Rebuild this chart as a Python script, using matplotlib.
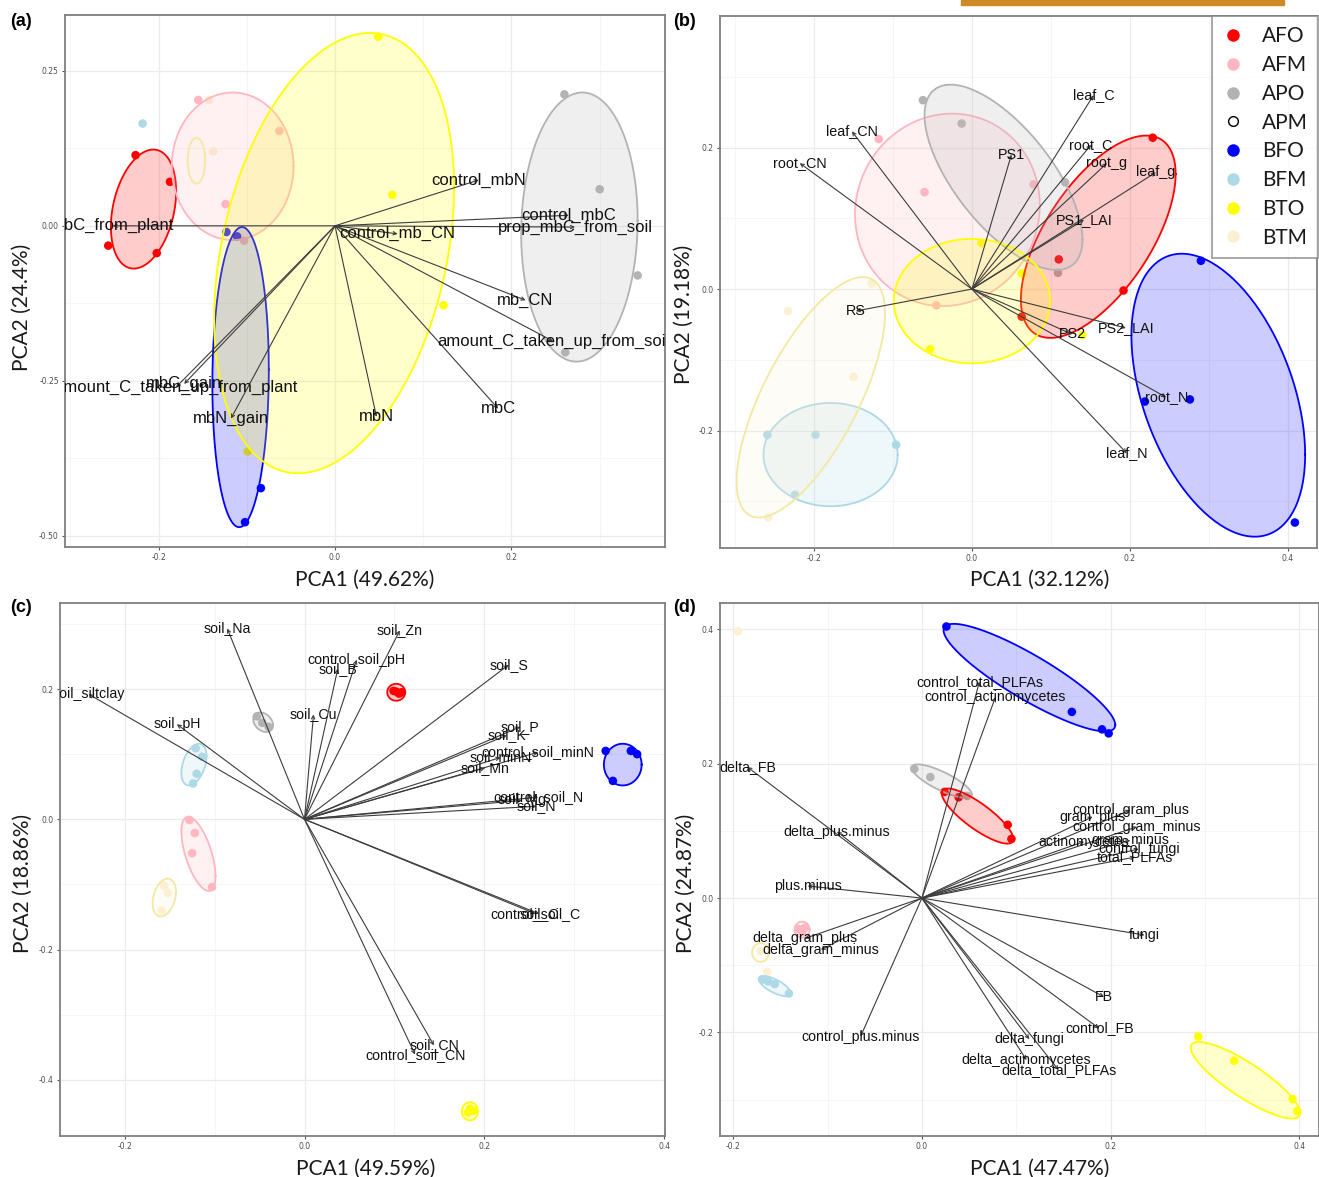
import numpy as np
import matplotlib
matplotlib.use("Agg")
import matplotlib.pyplot as plt
from matplotlib.lines import Line2D
from matplotlib.patches import Rectangle

W, H = 1319, 1177
LABEL_FONT = "Liberation Sans"
TITLE_FONT = "Lato"

GROUPS = ["AFO", "AFM", "APO", "APM", "BFO", "BFM", "BTO", "BTM"]
COLORS = {"AFO": "#ff0000", "AFM": "#ffb6c1", "APO": "#b3b3b3", "APM": "#ffffff",
          "BFO": "#0000ff", "BFM": "#add8e6", "BTO": "#ffff00", "BTM": "#fbf0d2"}
# outline colour of the ellipses (the cream group has a more yellow outline)
EDGES = dict(COLORS, BTM="#f4e8a2")

# ---- panel (a): microbial biomass ----
A_PTS = {
    "AFO": ([-0.226, -0.187, -0.257, -0.202], [0.114, 0.071, -0.032, -0.044]),
    "AFM": ([-0.155, -0.063, -0.124, -0.103], [0.203, 0.153, 0.035, -0.024]),
    "APO": ([0.260, 0.300, 0.343, 0.261], [0.212, 0.059, -0.080, -0.204]),
    "BFO": ([-0.123, -0.111, -0.084, -0.102], [-0.010, -0.017, -0.423, -0.478]),
    "BFM": ([-0.218], [0.165]),
    "BTO": ([0.049, 0.065, 0.123, -0.099], [0.305, 0.050, -0.128, -0.364]),
    "BTM": ([-0.143, -0.138], [0.203, 0.120]),
}
# ellipse: centre x, centre y, half x-extent, half y-extent, correlation
A_ELL = {
    "AFO": (-0.217, 0.027, 0.037, 0.096, 0.30),
    "AFM": (-0.116, 0.096, 0.069, 0.119, 0.0),
    "APO": (0.277, -0.002, 0.066, 0.217, 0.05),
    "BFO": (-0.107, -0.244, 0.032, 0.242, 0.05),
    "BTO": (-0.001, -0.044, 0.136, 0.355, 0.30),
    "BTM": (-0.157, 0.105, 0.010, 0.037, 0.0),
}
A_VARS = ["control_mbN", "control_mbC", "prop_mbC_from_soil", "control_mb_CN", "mb_CN",
          "amount_C_taken_up_from_soil", "mbC", "mbN", "mbN_gain", "mbC_gain",
          "amount_C_taken_up_from_plant", "mbC_from_plant"]
A_LX = [0.163, 0.265, 0.272, 0.071, 0.216, 0.247, 0.185, 0.047, -0.118, -0.171, -0.180, -0.252]
A_LY = [0.074, 0.017, -0.002, -0.013, -0.120, -0.186, -0.295, -0.308, -0.311, -0.255, -0.260, 0.0]

# ---- panel (b): plant traits ----
B_PTS = {
    "AFO": ([0.229, 0.110, 0.192, 0.063], [0.214, 0.042, -0.002, -0.039]),
    "AFM": ([-0.118, -0.060, 0.078, -0.045], [0.212, 0.137, 0.148, -0.023]),
    "APO": ([-0.062, -0.013, 0.118, 0.109], [0.267, 0.234, 0.151, 0.023]),
    "BFO": ([0.290, 0.219, 0.276, 0.409], [0.040, -0.159, -0.156, -0.330]),
    "BFM": ([-0.259, -0.198, -0.096, -0.224], [-0.206, -0.206, -0.220, -0.291]),
    "BTO": ([0.012, 0.063, -0.053, 0.140], [0.065, 0.022, -0.085, -0.065]),
    "BTM": ([-0.127, -0.233, -0.150, -0.258], [0.008, -0.031, -0.124, -0.323]),
}
B_ELL = {
    "AFO": (0.160, 0.074, 0.098, 0.143, 0.62),
    "AFM": (-0.031, 0.112, 0.117, 0.136, 0.05),
    "APO": (0.040, 0.158, 0.100, 0.131, -0.67),
    "BFO": (0.312, -0.150, 0.110, 0.200, -0.42),
    "BFM": (-0.179, -0.234, 0.085, 0.073, 0.0),
    "BTO": (0.000, -0.017, 0.099, 0.088, 0.0),
    "BTM": (-0.204, -0.153, 0.094, 0.170, 0.7),
}
B_VARS = ["leaf_C", "leaf_CN", "root_CN", "PS1", "root_C", "root_g", "leaf_g", "PS1_LAI",
          "RS", "PS2", "PS2_LAI", "root_N", "leaf_N"]
B_LX = [0.154, -0.152, -0.218, 0.050, 0.151, 0.171, 0.233, 0.142, -0.147, 0.127, 0.195, 0.246, 0.196]
B_LY = [0.274, 0.223, 0.178, 0.190, 0.204, 0.178, 0.165, 0.098, -0.031, -0.064, -0.055, -0.153, -0.232]

# ---- panel (c): soil properties ----
C_PTS = {
    "AFO": ([0.099, 0.105, 0.102, 0.108], [0.197, 0.193, 0.196, 0.195]),
    "APO": ([-0.053, -0.040, -0.047], [0.158, 0.142, 0.148]),
    "BFM": ([-0.121, -0.114, -0.120, -0.124], [0.109, 0.096, 0.070, 0.055]),
    "AFM": ([-0.128, -0.122, -0.125, -0.103], [-0.001, -0.021, -0.052, -0.104]),
    "BTM": ([-0.156, -0.152, -0.159], [-0.102, -0.113, -0.140]),
    "BFO": ([0.335, 0.363, 0.370, 0.343], [0.105, 0.105, 0.100, 0.059]),
    "BTO": ([0.184, 0.188, 0.182], [-0.444, -0.447, -0.450]),
}
C_ELL = {
    "AFO": (0.102, 0.195, 0.010, 0.013, 0.0),
    "APO": (-0.046, 0.149, 0.011, 0.015, -0.3),
    "BFM": (-0.123, 0.084, 0.014, 0.032, 0.4),
    "AFM": (-0.118, -0.053, 0.019, 0.057, -0.6),
    "BTM": (-0.156, -0.120, 0.013, 0.029, 0.3),
    "BFO": (0.354, 0.084, 0.021, 0.032, 0.0),
    "BTO": (0.184, -0.448, 0.009, 0.014, 0.0),
}
C_VARS = ["soil_Na", "soil_Zn", "control_soil_pH", "soil_B", "soil_S", "soil_siltclay",
          "soil_pH", "soil_Cu", "soil_P", "soil_K", "control_soil_minN", "soil_minN",
          "soil_Mn", "control_soil_N", "soil_Mg", "soil_N", "control_soil_C", "soil_C",
          "soil_CN", "control_soil_CN"]
C_LX = [-0.086, 0.106, 0.058, 0.037, 0.227, -0.240, -0.142, 0.010, 0.240, 0.225, 0.260, 0.218,
        0.201, 0.260, 0.242, 0.258, 0.257, 0.261, 0.144, 0.123]
C_LY = [0.293, 0.290, 0.245, 0.231, 0.237, 0.192, 0.146, 0.161, 0.142, 0.129, 0.103, 0.095,
        0.079, 0.034, 0.029, 0.020, -0.145, -0.145, -0.347, -0.361]

# ---- panel (d): PLFAs ----
D_PTS = {
    "BFO": ([0.026, 0.159, 0.191, 0.198], [0.404, 0.277, 0.251, 0.245]),
    "APO": ([-0.008, 0.009, 0.048], [0.192, 0.180, 0.152]),
    "AFO": ([0.024, 0.039, 0.091, 0.095], [0.158, 0.150, 0.109, 0.088]),
    "AFM": ([-0.131, -0.127, -0.124], [-0.046, -0.050, -0.044]),
    "BTM": ([-0.195, -0.171, -0.164], [0.397, -0.079, -0.110]),
    "BFM": ([-0.169, -0.163, -0.156, -0.141], [-0.121, -0.124, -0.128, -0.142]),
    "BTO": ([0.293, 0.331, 0.393, 0.398], [-0.206, -0.242, -0.299, -0.317]),
}
D_ELL = {
    "BFO": (0.114, 0.328, 0.091, 0.080, -0.88),
    "APO": (0.021, 0.174, 0.032, 0.025, -0.8),
    "AFO": (0.059, 0.122, 0.038, 0.041, -0.83),
    "AFM": (-0.127, -0.047, 0.008, 0.012, 0.0),
    "BTM": (-0.171, -0.081, 0.009, 0.014, 0.0),
    "BFM": (-0.156, -0.131, 0.017, 0.015, -0.7),
    "BTO": (0.343, -0.271, 0.058, 0.057, -0.85),
}
D_VARS = ["control_total_PLFAs", "control_actinomycetes", "delta_FB", "delta_plus.minus",
          "plus.minus", "delta_gram_plus", "delta_gram_minus", "control_plus.minus",
          "control_gram_plus", "gram_plus", "control_gram_minus", "actinomycetes",
          "gram_minus", "control_fungi", "total_PLFAs", "fungi", "FB", "control_FB",
          "delta_fungi", "delta_actinomycetes", "delta_total_PLFAs"]
D_LX = [0.061, 0.078, -0.185, -0.090, -0.121, -0.124, -0.107, -0.065, 0.221, 0.181, 0.228,
        0.172, 0.221, 0.230, 0.226, 0.236, 0.193, 0.188, 0.114, 0.111, 0.145]
D_LY = [0.322, 0.299, 0.195, 0.099, 0.018, -0.060, -0.077, -0.206, 0.131, 0.121, 0.106,
        0.084, 0.086, 0.073, 0.061, -0.055, -0.147, -0.194, -0.210, -0.241, -0.256]


def ellipse_xy(cx, cy, sx, sy, r):
    t = np.linspace(0, 2 * np.pi, 200)
    return cx + sx * np.cos(t), cy + sy * (r * np.cos(t) + np.sqrt(1 - r * r) * np.sin(t))


def panel(ax, pts, ell, names, lx, ly, xlim, ylim, xt, yt, yfmt, minor_x, minor_y, fs):
    ax.set_xlim(*xlim); ax.set_ylim(*ylim)
    for v in minor_x:
        ax.axvline(v, color="#f4f4f4", lw=0.6, zorder=0)
    for v in minor_y:
        ax.axhline(v, color="#f4f4f4", lw=0.6, zorder=0)
    for v in xt:
        ax.axvline(v, color="#ebebeb", lw=0.9, zorder=0)
    for v in yt:
        ax.axhline(v, color="#ebebeb", lw=0.9, zorder=0)
    for g, (xs, ys) in pts.items():
        ax.scatter(xs, ys, s=38, color=COLORS[g], edgecolors="none", zorder=2)
    for g, (cx, cy, sx, sy, r) in ell.items():
        ex, ey = ellipse_xy(cx, cy, sx, sy, r)
        ax.fill(ex, ey, color=COLORS[g], alpha=0.2, lw=0, zorder=3)
        ax.plot(ex, ey, color=EDGES[g], lw=1.3, zorder=3)
    for n, x, y in zip(names, lx, ly):
        ax.annotate("", xy=(x, y), xytext=(0, 0), zorder=4,
                    arrowprops=dict(arrowstyle="->", color="#3c3c3c", lw=0.8,
                                    shrinkA=0, shrinkB=0, mutation_scale=6))
        ax.text(x, y, n, ha="center", va="center", fontsize=fs, family=LABEL_FONT,
                color="#111111", zorder=5, clip_on=True)
    ax.set_xticks(xt); ax.set_yticks(yt)
    ax.set_xticklabels([f"{v:.1f}" for v in xt])
    ax.set_yticklabels([yfmt.format(v) for v in yt])
    ax.tick_params(length=2.5, width=0.8, color="#555555", labelsize=5.5,
                   labelcolor="#4d4d4d", pad=2)
    for s in ax.spines.values():
        s.set_color("#7f7f7f"); s.set_linewidth(1.3)


fig = plt.figure(figsize=(W / 100, H / 100), dpi=100)

def add_axes(l, t, r, b):
    return fig.add_axes([l / W, 1 - b / H, (r - l) / W, (b - t) / H])

ax_a = add_axes(65, 15, 665, 547)
ax_b = add_axes(720, 16, 1317, 548)
ax_c = add_axes(60, 603, 665, 1136)
ax_d = add_axes(720, 603, 1319, 1136)

minor = [-0.3, -0.1, 0.1, 0.3]
panel(ax_a, A_PTS, A_ELL, A_VARS, A_LX, A_LY, (-0.306, 0.374), (-0.518, 0.340),
      [-0.2, 0.0, 0.2], [-0.5, -0.25, 0.0, 0.25], "{:.2f}", minor, [-0.375, -0.125, 0.125], 12)
panel(ax_b, B_PTS, B_ELL, B_VARS, B_LX, B_LY, (-0.319, 0.437), (-0.366, 0.386),
      [-0.2, 0.0, 0.2, 0.4], [-0.2, 0.0, 0.2], "{:.1f}", minor, minor, 10.4)
panel(ax_c, C_PTS, C_ELL, C_VARS, C_LX, C_LY, (-0.272, 0.401), (-0.486, 0.332),
      [-0.2, 0.0, 0.2, 0.4], [-0.4, -0.2, 0.0, 0.2], "{:.1f}", minor, minor, 10.2)
panel(ax_d, D_PTS, D_ELL, D_VARS, D_LX, D_LY, (-0.214, 0.421), (-0.354, 0.439),
      [-0.2, 0.0, 0.2, 0.4], [-0.2, 0.0, 0.2, 0.4], "{:.1f}", minor, minor, 10.2)

titles = [(ax_a, "PCA1 (49.62%)", "PCA2 (24.4%)", 0.500, -0.043, -0.055, 0.451),
          (ax_b, "PCA1 (32.12%)", "PCA2 (19.18%)", 0.536, -0.041, -0.044, 0.440),
          (ax_c, "PCA1 (49.59%)", "PCA2 (18.86%)", 0.506, -0.043, -0.045, 0.474),
          (ax_d, "PCA1 (47.47%)", "PCA2 (24.87%)", 0.534, -0.043, -0.040, 0.474)]
for ax, xl, yl, xx, xy, yx, yy in titles:
    ax.set_xlabel(xl, fontsize=15, family=TITLE_FONT, color="#1a1a1a")
    ax.set_ylabel(yl, fontsize=15, family=TITLE_FONT, color="#1a1a1a")
    ax.xaxis.set_label_coords(xx, xy)
    ax.yaxis.set_label_coords(yx, yy)

# legend of panel (b)
handles = []
for g in GROUPS:
    if g == "APM":
        handles.append(Line2D([], [], marker="o", ls="none", markersize=7,
                              markerfacecolor="white", markeredgecolor="black", markeredgewidth=1))
    else:
        handles.append(Line2D([], [], marker="o", ls="none", markersize=9,
                              markerfacecolor=COLORS[g], markeredgecolor="none"))
leg = ax_b.legend(handles, GROUPS, loc="upper left", bbox_to_anchor=(0.824, 1.0),
                  borderaxespad=0, frameon=True, fancybox=False, labelspacing=0.42,
                  handletextpad=0.9, borderpad=0.5, handlelength=1.0,
                  prop={"family": TITLE_FONT, "size": 15})
leg.get_frame().set_edgecolor("#7f7f7f")
leg.get_frame().set_linewidth(1.2)
leg.set_zorder(10)
for t in leg.get_texts():
    t.set_color("#1a1a1a")

# panel tags
for tag, x, y in [("(a)", 10, 21), ("(b)", 673, 21), ("(c)", 10, 607), ("(d)", 673, 607)]:
    fig.text(x / W, 1 - y / H, tag, fontsize=13, fontweight="bold", family=LABEL_FONT,
             va="center", ha="left")

# cropped orange bar at the top edge
fig.patches.append(Rectangle((961 / W, 1 - 5 / H), 323 / W, 5 / H, transform=fig.transFigure,
                             color="#cf8a26", zorder=20))

fig.savefig("out.png", dpi=100)
